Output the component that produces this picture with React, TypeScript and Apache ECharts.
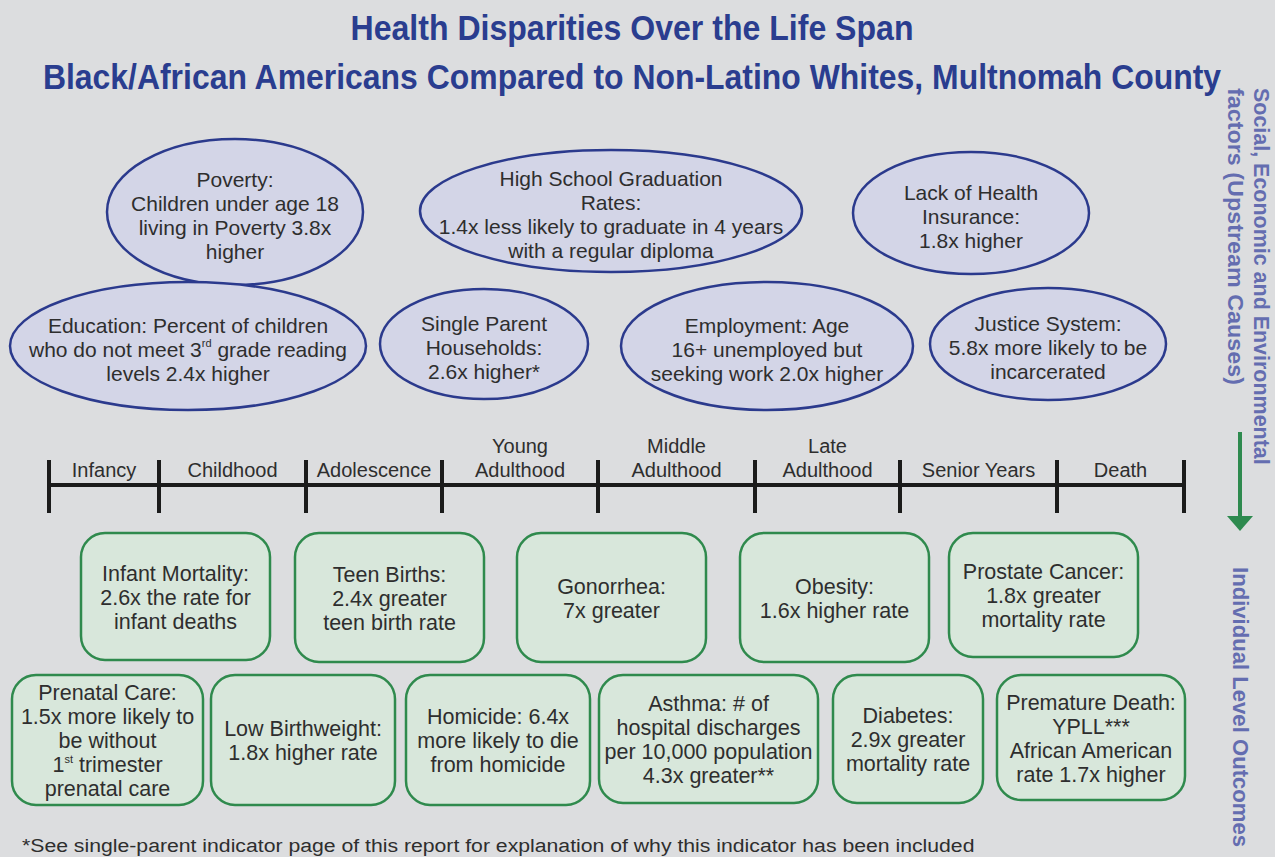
import React, { useEffect, useRef } from "react";
import * as echarts from "echarts";

// ---------- Content ----------
const titleLines = [
  "Health Disparities Over the Life Span",
  "Black/African Americans Compared to Non-Latino Whites, Multnomah County",
];

const upstreamFactors = [
  "Poverty:\nChildren under age 18\nliving in Poverty 3.8x\nhigher",
  "High School Graduation\nRates:\n1.4x less likely to graduate in 4 years\nwith a regular diploma",
  "Lack of Health\nInsurance:\n1.8x higher",
  "Education: Percent of children\nwho do not meet 3{sup|rd} grade reading\nlevels 2.4x higher",
  "Single Parent\nHouseholds:\n2.6x higher*",
  "Employment: Age\n16+ unemployed but\nseeking work 2.0x higher",
  "Justice System:\n5.8x more likely to be\nincarcerated",
];

const lifeStages = [
  "Infancy",
  "Childhood",
  "Adolescence",
  "Young\nAdulthood",
  "Middle\nAdulthood",
  "Late\nAdulthood",
  "Senior Years",
  "Death",
];

const outcomesRow1 = [
  "Infant Mortality:\n2.6x the rate for\ninfant deaths",
  "Teen Births:\n2.4x greater\nteen birth rate",
  "Gonorrhea:\n7x greater",
  "Obesity:\n1.6x higher rate",
  "Prostate Cancer:\n1.8x greater\nmortality rate",
];

const outcomesRow2 = [
  "Prenatal Care:\n1.5x more likely to\nbe without\n1{sup|st} trimester\nprenatal care",
  "Low Birthweight:\n1.8x higher rate",
  "Homicide: 6.4x\nmore likely to die\nfrom homicide",
  "Asthma: # of\nhospital discharges\nper 10,000 population\n4.3x greater**",
  "Diabetes:\n2.9x greater\nmortality rate",
  "Premature Death:\nYPLL***\nAfrican American\nrate 1.7x higher",
];

const sideLabelUpstream = ["Social, Economic and Environmental", "factors (Upstream Causes)"];
const sideLabelOutcomes = "Individual Level Outcomes";
const footnote =
  "*See single-parent indicator page of this report for explanation of why this indicator has been included";

// ---------- Layout ----------
const ellipseLayout = [
  { cx: 235, cy: 212, rx: 128, ry: 73 },
  { cx: 611, cy: 211, rx: 191, ry: 61 },
  { cx: 971, cy: 213, rx: 118, ry: 61 },
  { cx: 188, cy: 346, rx: 178, ry: 64 },
  { cx: 484, cy: 344, rx: 104, ry: 55 },
  { cx: 767, cy: 346, rx: 146, ry: 64 },
  { cx: 1048, cy: 344, rx: 118, ry: 56 },
];
const stageBounds = [49, 159, 306, 442, 598, 755, 900, 1057, 1184];
const row1Layout = [
  { x: 81, y: 533, w: 189, h: 127 },
  { x: 295, y: 533, w: 189, h: 129 },
  { x: 517, y: 533, w: 189, h: 129 },
  { x: 740, y: 533, w: 189, h: 129 },
  { x: 949, y: 533, w: 189, h: 124 },
];
const row2Layout = [
  { x: 12, y: 675, w: 191, h: 130 },
  { x: 211, y: 675, w: 184, h: 130 },
  { x: 406, y: 675, w: 184, h: 130 },
  { x: 599, y: 675, w: 219, h: 128 },
  { x: 833, y: 675, w: 150, h: 128 },
  { x: 997, y: 675, w: 188, h: 125 },
];

const BG = "#dcdddf";
const TITLE = "#2a3d8f";
const ELL_FILL = "#d3d5e7";
const ELL_STROKE = "#2b3a8d";
const BOX_FILL = "#d8e7db";
const BOX_STROKE = "#2f8a4d";
const TEXT = "#2e2e2e";
const SIDE = "#646db0";
const BODY_FONT = "'Liberation Sans', Arial, sans-serif";
const BOLD_FONT = "'Liberation Sans', Arial, sans-serif";

const rich = { sup: { fontSize: 11, verticalAlign: "top", fill: TEXT, fontFamily: BODY_FONT } };

function measure(text: string, font: string) {
  const c = document.createElement("canvas").getContext("2d")!;
  c.font = font;
  return c.measureText(text).width;
}
function fitScale(text: string, size: number, target: number) {
  return target / measure(text, `bold ${size}px 'Liberation Sans', Arial, sans-serif`);
}

function bodyText(x: number, y: number, text: string, size: number) {
  return {
    type: "text",
    x,
    y,
    style: {
      text,
      fill: TEXT,
      fontSize: size,
      fontFamily: BODY_FONT,
      lineHeight: 24,
      align: "center",
      verticalAlign: "middle",
      rich,
    },
  };
}

export default function App() {
  const ref = useRef<HTMLDivElement>(null);
  useEffect(() => {
    document.body.style.margin = "0";
    const chart = echarts.init(ref.current!, null, { renderer: "svg" });
    const g: any[] = [];

    const titleTargets = [563, 1180];
    titleLines.forEach((t, i) => {
      g.push({
        type: "text",
        x: 632,
        y: i === 0 ? 27 : 76,
        scaleX: fitScale(t, 36, titleTargets[i]),
        style: {
          text: t,
          fill: TITLE,
          fontSize: 36,
          fontWeight: "bold",
          fontFamily: BOLD_FONT,
          align: "center",
          verticalAlign: "middle",
        },
      });
    });

    upstreamFactors.forEach((t, i) => {
      const e = ellipseLayout[i];
      g.push({
        type: "ellipse",
        shape: { cx: e.cx, cy: e.cy, rx: e.rx, ry: e.ry },
        style: { fill: ELL_FILL, stroke: ELL_STROKE, lineWidth: 2.5 },
      });
      g.push(bodyText(e.cx, e.cy + 3, t, 21));
    });

    // timeline
    g.push({
      type: "line",
      shape: { x1: stageBounds[0], y1: 485, x2: stageBounds[stageBounds.length - 1], y2: 485 },
      style: { stroke: "#1b1b1b", lineWidth: 4 },
    });
    stageBounds.forEach((x) => {
      g.push({
        type: "line",
        shape: { x1: x, y1: 460, x2: x, y2: 513 },
        style: { stroke: "#1b1b1b", lineWidth: 4 },
      });
    });
    lifeStages.forEach((s, i) => {
      const cx = (stageBounds[i] + stageBounds[i + 1]) / 2;
      g.push({
        type: "text",
        x: cx,
        y: 482,
        style: {
          text: s,
          fill: TEXT,
          fontSize: 20,
          fontFamily: BODY_FONT,
          lineHeight: 24,
          align: "center",
          verticalAlign: "bottom",
        },
      });
    });

    const boxes = (texts: string[], layout: any[]) => {
      texts.forEach((t, i) => {
        const b = layout[i];
        g.push({
          type: "rect",
          shape: { x: b.x, y: b.y, width: b.w, height: b.h, r: 24 },
          style: { fill: BOX_FILL, stroke: BOX_STROKE, lineWidth: 2.5 },
        });
        g.push(bodyText(b.x + b.w / 2, b.y + b.h / 2 + 1, t, 21.5));
      });
    };
    boxes(outcomesRow1, row1Layout);
    boxes(outcomesRow2, row2Layout);

    // side labels
    const sideTargets = [377, 297];
    sideLabelUpstream.forEach((t, i) => {
      g.push({
        type: "text",
        x: i === 0 ? 1262 : 1236,
        y: 88,
        rotation: -Math.PI / 2,
        scaleX: fitScale(t, 22, sideTargets[i]),
        style: {
          text: t,
          fill: SIDE,
          fontSize: 22,
          fontWeight: "bold",
          fontFamily: BOLD_FONT,
          align: "left",
          verticalAlign: "middle",
        },
      });
    });
    g.push({
      type: "text",
      x: 1240,
      y: 567,
      rotation: -Math.PI / 2,
      scaleX: fitScale(sideLabelOutcomes, 22, 280),
      style: {
        text: sideLabelOutcomes,
        fill: SIDE,
        fontSize: 22,
        fontWeight: "bold",
        fontFamily: BOLD_FONT,
        align: "left",
        verticalAlign: "middle",
      },
    });
    // arrow
    g.push({
      type: "line",
      shape: { x1: 1240, y1: 432, x2: 1240, y2: 518 },
      style: { stroke: "#2e8a4f", lineWidth: 4 },
    });
    g.push({
      type: "polygon",
      shape: { points: [[1227, 516], [1253, 516], [1240, 531]] },
      style: { fill: "#2e8a4f" },
    });

    g.push({
      type: "text",
      x: 22,
      y: 845,
      scaleX: 953 / measure(footnote, `19px 'Liberation Sans', Arial, sans-serif`),
      style: {
        text: footnote,
        fill: TEXT,
        fontSize: 19,
        fontFamily: BODY_FONT,
        align: "left",
        verticalAlign: "middle",
      },
    });

    chart.setOption({ animation: false, backgroundColor: BG, graphic: { elements: g } });
    return () => chart.dispose();
  }, []);
  return <div ref={ref} style={{ width: 1275, height: 857 }} />;
}
